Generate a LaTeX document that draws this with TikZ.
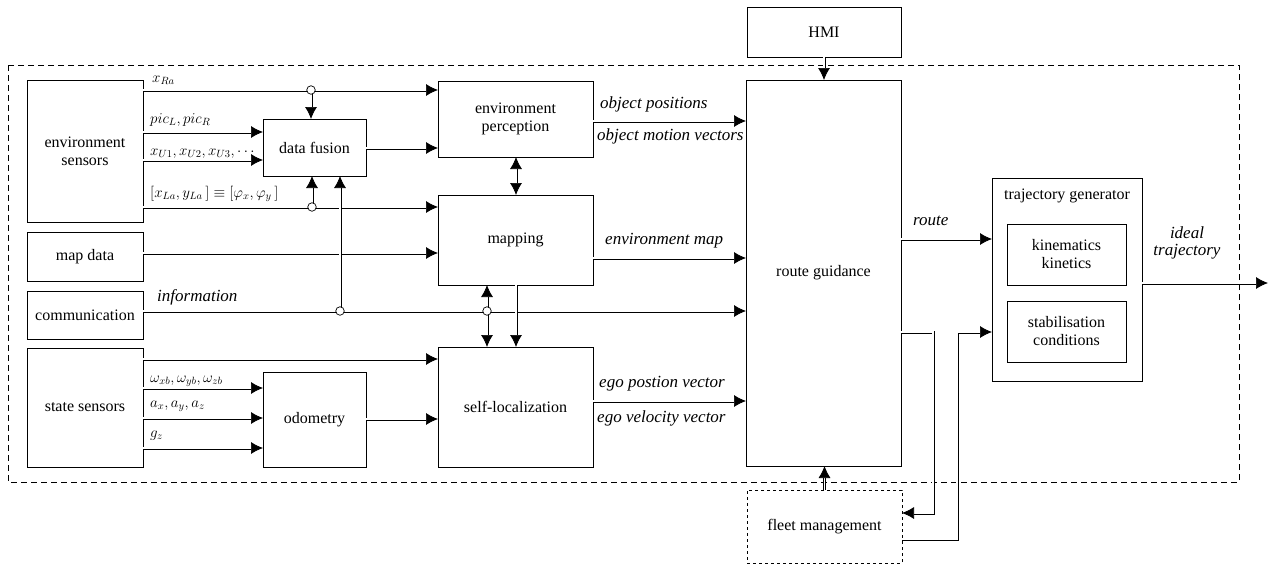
\RequirePackage{fix-cm}
\documentclass[tikz,border=0pt]{standalone}
\usepackage{fontspec}
\newfontfamily\lsf{Liberation Serif}
\usetikzlibrary{arrows.meta}
\begin{document}
\begin{tikzpicture}[x=1pt,y=-1pt,
  font=\lsf\fontsize{16}{18}\selectfont,
  box/.style={draw, line width=0.8pt, align=center, inner sep=2pt, outer sep=0pt},
  tipA/.tip={Latex[length=12pt,width=12pt]},
  dbl/.style={draw, line width=0.7pt, double=white, double distance=1.6pt, -tipA},
  dblboth/.style={dbl, tipA-tipA},
  junc/.style={circle, draw, fill=white, line width=0.7pt, inner sep=0pt, minimum size=8.5pt},
  lbl/.style={inner sep=0pt, anchor=base west, font=\lsf\fontsize{15}{17}\selectfont},
  ilbl/.style={inner sep=0pt, anchor=base west, font=\lsf\fontsize{17}{19}\selectfont\itshape},
  frame/.style={draw, line width=0.8pt, dash pattern=on 6pt off 4pt}
]
\useasboundingbox (0,0) rectangle (1269,565);
\draw[frame] (8,65) rectangle (1239,482);

% boxes
\node[box, minimum width=154, minimum height=50] (hmi) at (824,32) {HMI};
\node[box, minimum width=116, minimum height=142] (es) at (85,151) {environment\\sensors};
\node[box, minimum width=116, minimum height=49] (md) at (85,256.5) {map data};
\node[box, minimum width=116, minimum height=48] (com) at (85,315) {communication};
\node[box, minimum width=116, minimum height=119] (ss) at (85,407.5) {state sensors};
\node[box, minimum width=103, minimum height=57] (df) at (314.5,147.5) {data fusion};
\node[box, minimum width=103, minimum height=95] (od) at (314.5,419.5) {odometry};
\node[box, minimum width=155, minimum height=76] (ep) at (515.5,119) {environment\\perception};
\node[box, minimum width=155, minimum height=90] (mp) at (515.5,240) {mapping};
\node[box, minimum width=155, minimum height=120] (sl) at (515.5,407) {self-localization};
\node[box, minimum width=155, minimum height=386] (rg) at (823.5,273) {route guidance};
\node[box, minimum width=150, minimum height=203] (tg) at (1067,279.5) {};
\node[inner sep=0pt] (tgt) at (1067,196) {trajectory generator};
\node[box, minimum width=119, minimum height=61] (kk) at (1066.5,254.5) {kinematics\\kinetics};
\node[box, minimum width=119, minimum height=61] (sc) at (1066.5,331.5) {stabilisation\\conditions};
\node[box, dashed, minimum width=155, minimum height=73] (fm) at (824.5,526.5) {fleet management};

% levels and junction points
\coordinate (yRa) at (0,90);
\coordinate (ypic) at (0,132);
\coordinate (yU) at (0,160);
\coordinate (ydf) at (0,148);
\coordinate (yLa) at (0,207);
\coordinate (ymd) at (0,253);
\coordinate (yinf) at (0,311);
\coordinate (yssl) at (0,359);
\coordinate (yom) at (0,388);
\coordinate (ya) at (0,418);
\coordinate (yg) at (0,448);
\coordinate (yod) at (0,419);
\coordinate (yep) at (0,121);
\coordinate (yem) at (0,258);
\coordinate (ysl) at (0,401);
\coordinate (yr1) at (0,239);
\coordinate (yout) at (0,283);
\coordinate (cRa) at (311,90);
\coordinate (cLa) at (312,207);
\coordinate (cCom) at (340,311);
\coordinate (cMap) at (487,311);
\coordinate (cMS) at (516,0);
\coordinate (k1) at (933,332);
\coordinate (k2) at (933,513);
\coordinate (k3) at (957,539);
\coordinate (k4) at (957,332);
\coordinate (out) at (1268,283);

% connectors
\draw[dbl] (es.east |- yRa) -- (ep.west |- yRa);
\draw[dbl] (cRa) -- (cRa |- df.north);
\draw[dbl] (es.east |- ypic) -- (df.west |- ypic);
\draw[dbl] (es.east |- yU) -- (df.west |- yU);
\draw[dbl] (df.east |- ydf) -- (ep.west |- ydf);
\draw[dbl] (es.east |- yLa) -- (mp.west |- yLa);
\draw[dbl] (md.east |- ymd) -- (mp.west |- ymd);
\draw[dbl] (com.east |- yinf) -- (rg.west |- yinf);
\draw[dbl] (cLa) -- (cLa |- df.south);
\draw[dbl] (cCom) -- (cCom |- df.south);
\draw[dbl] (cMap) -- (cMap |- mp.south);
\draw[dbl] (cMap) -- (cMap |- sl.north);
\draw[dbl] (cMS |- mp.south) -- (cMS |- sl.north);
\draw[dblboth] (cMS |- ep.south) -- (cMS |- mp.north);
\draw[dbl] (ss.east |- yssl) -- (sl.west |- yssl);
\draw[dbl] (ss.east |- yom) -- (od.west |- yom);
\draw[dbl] (ss.east |- ya) -- (od.west |- ya);
\draw[dbl] (ss.east |- yg) -- (od.west |- yg);
\draw[dbl] (od.east |- yod) -- (sl.west |- yod);
\draw[dbl] (ep.east |- yep) -- (rg.west |- yep);
\draw[dbl] (mp.east |- yem) -- (rg.west |- yem);
\draw[dbl] (sl.east |- ysl) -- (rg.west |- ysl);
\draw[dbl] (hmi.south) -- (hmi.south |- rg.north);
\draw[dbl] (fm.north) -- (fm.north |- rg.south);
\draw[dbl] (rg.east |- yr1) -- (tg.west |- yr1);
\draw[dbl] (rg.east |- k1) -- (k1) -- (k2) -- (fm.east |- k2);
\draw[dbl] (fm.east |- k3) -- (k3) -- (k4) -- (tg.west |- k4);
\draw[dbl] (tg.east |- yout) -- (out);

% junctions
\node[junc] (jRa) at (cRa) {};
\node[junc] (jLa) at (cLa) {};
\node[junc] (jCom) at (cCom) {};
\node[junc] (jMap) at (cMap) {};

% labels
\node[lbl] (lRa) at (152,82) {$x_{Ra}$};
\node[lbl] (lpic) at (150,123) {$pic_L, pic_R$};
\node[lbl] (lU) at (150,155) {$x_{U1}, x_{U2}, x_{U3}, \cdots$};
\node[lbl] (lLa) at (150,197) {$[x_{La}, y_{La}\,] \equiv [\varphi_x, \varphi_y\,]$};
\node[ilbl] (linf) at (157,301) {information};
\node[lbl] (lom) at (150,382) {$\omega_{xb}, \omega_{yb}, \omega_{zb}$};
\node[lbl] (la) at (150,407) {$a_x, a_y, a_z$};
\node[lbl] (lg) at (150,437) {$g_z$};
\node[ilbl] (lop) at (600,108) {object positions};
\node[ilbl] (lomv) at (597,140) {object motion vectors};
\node[ilbl] (lem) at (605,244) {environment map};
\node[ilbl] (lepv) at (599,387) {ego postion vector};
\node[ilbl] (levv) at (597,422) {ego velocity vector};
\node[ilbl] (lroute) at (913,225) {route};
\node[inner sep=0pt, anchor=base, align=center, font=\lsf\fontsize{17}{17}\selectfont\itshape] (lit) at (1187,255) {ideal\\trajectory};
\end{tikzpicture}
\end{document}
